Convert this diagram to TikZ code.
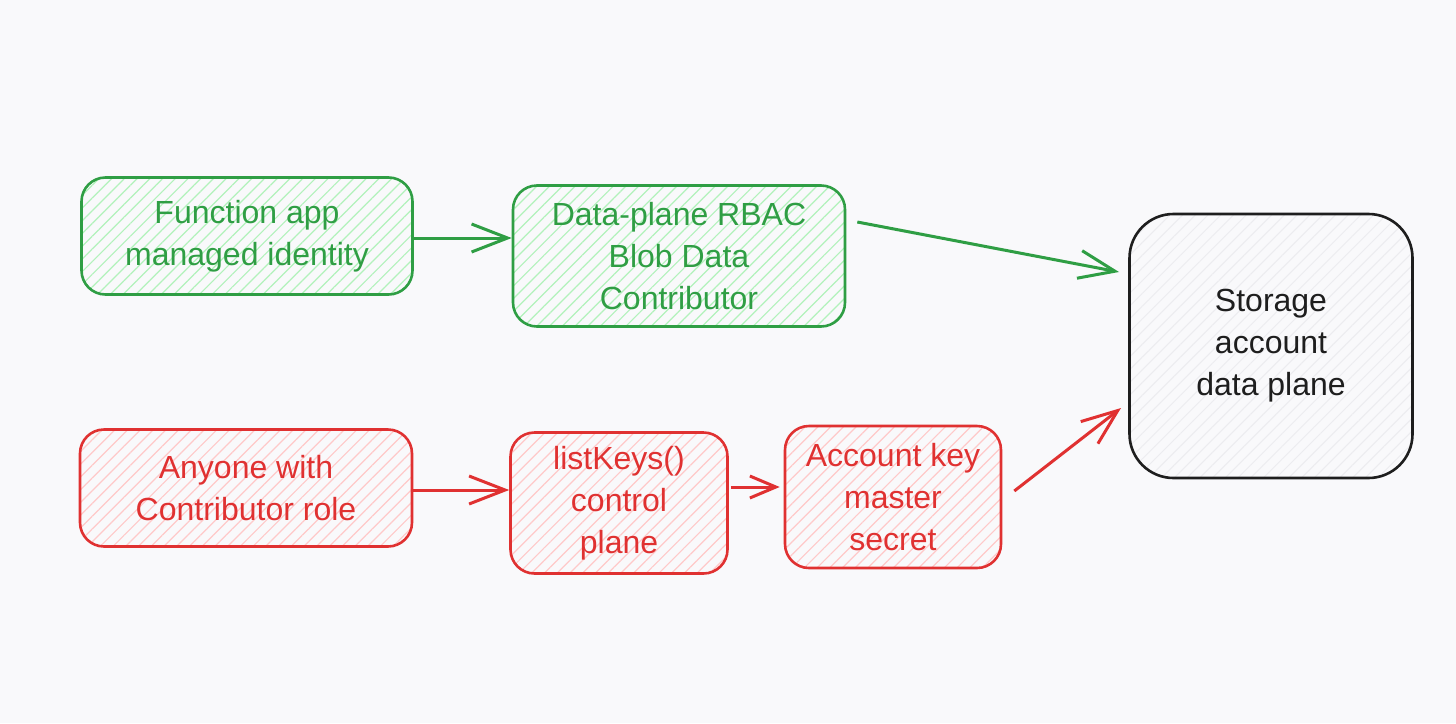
\documentclass[tikz,border=0pt]{standalone}
\usepackage{fontspec}
\setmainfont{Liberation Sans}
\usetikzlibrary{positioning}
\usetikzlibrary{arrows.meta}
\usetikzlibrary{patterns.meta}
\definecolor{okgreen}{HTML}{2F9E44}
\definecolor{okhatch}{HTML}{B2F2BB}
\definecolor{badred}{HTML}{E03131}
\definecolor{badhatch}{HTML}{FFC9C9}
\definecolor{ink}{HTML}{1E1E1E}
\definecolor{inkhatch}{HTML}{ECECEF}
\definecolor{paper}{HTML}{F9F9FB}

\tikzset{
  box/.style={draw, line width=1.3pt, rounded corners=12pt, align=center,
    inner sep=0pt, font=\fontsize{16}{21}\selectfont},
  goodbox/.style={box, draw=okgreen, text=okgreen,
    pattern={Lines[angle=45,distance=4.5pt,line width=0.6pt]}, pattern color=okhatch},
  badbox/.style={box, draw=badred, text=badred,
    pattern={Lines[angle=45,distance=4.5pt,line width=0.6pt]}, pattern color=badhatch},
  storebox/.style={box, draw=ink, text=ink, rounded corners=22pt,
    pattern={Lines[angle=45,distance=4.5pt,line width=0.5pt]}, pattern color=inkhatch},
  link/.style={line width=1.5pt, -{Straight Barb[length=18pt,width=14pt,line width=1.5pt]}},
  shortlink/.style={line width=1.5pt, -{Straight Barb[length=13pt,width=11pt,line width=1.5pt]}}
}

\begin{document}
\begin{tikzpicture}[x=0.5pt,y=-0.5pt]
\fill[paper] (0,0) rectangle (1456,723);
\useasboundingbox (0,0) rectangle (1456,723);

\node[goodbox, minimum width=165.5pt, minimum height=58.5pt] (func) at (247,236)
  {Function app\\managed identity};
\node[goodbox, minimum width=166pt, minimum height=70.5pt] (rbac) at (679,256)
  {Data-plane RBAC\\Blob Data\\Contributor};
\node[storebox, minimum width=141.5pt, minimum height=132pt] (store) at (1271,346)
  {Storage\\account\\data plane};
\node[badbox, minimum width=166pt, minimum height=58.5pt] (anyone) at (246,488)
  {Anyone with\\Contributor role};
\node[badbox, minimum width=108.5pt, minimum height=70.5pt] (keys) at (619,503)
  {listKeys()\\control\\plane};
\node[badbox, minimum width=108pt, minimum height=71pt] (acct) at (893,497)
  {Account key\\master\\secret};

\draw[link, okgreen] ([yshift=-1pt]func.east) -- ([yshift=-1pt]func.east -| rbac.west);
\draw[link, okgreen] ([shift={(11,-34)}]rbac.east) -- ([shift={(-10,-74)}]store.west);
\draw[link, badred] ([yshift=-1pt]anyone.east) -- ([yshift=-1pt]anyone.east -| keys.west);
\draw[shortlink, badred] ([shift={(2,-16)}]keys.east) -- ([shift={(-4,-10)}]acct.west);
\draw[link, badred] ([shift={(12,-6)}]acct.east) -- ([shift={(-8,62)}]store.west);

\end{tikzpicture}
\end{document}
